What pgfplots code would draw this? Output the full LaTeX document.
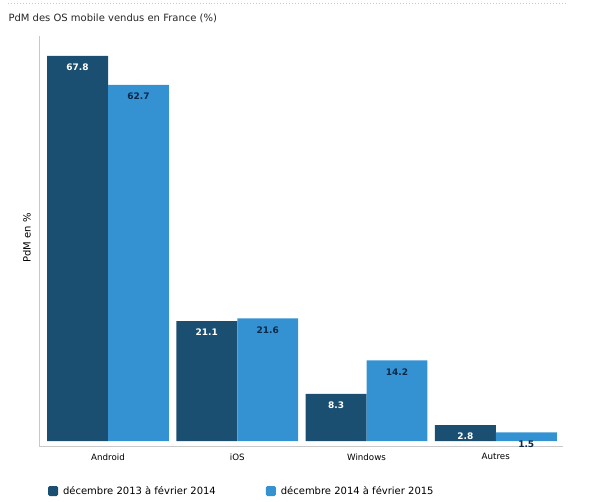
\documentclass[border=0pt]{standalone}
\usepackage{pgfplots}
\pgfplotsset{compat=1.18}
\usepackage{fontspec}
\setmainfont{DejaVu Sans}
\definecolor{darkbar}{RGB}{27,79,114}
\definecolor{lightbar}{RGB}{52,146,210}
\definecolor{lbltext}{RGB}{12,40,72}
\definecolor{axgray}{RGB}{200,200,200}
\begin{document}
\begin{tikzpicture}
\useasboundingbox (0,0) rectangle (600bp,502bp);
\draw[axgray, dotted, line width=1bp] (8bp,498bp) -- (567bp,498bp);
\node[anchor=west, font=\fontsize{10bp}{12bp}\selectfont, text=black!85] at (5bp,484bp) {PdM des OS mobile vendus en France (\%)};
\node[rotate=90, font=\fontsize{10bp}{12bp}\selectfont] at (27bp,264bp) {PdM en \%};
\begin{axis}[
  scale only axis,
  at={(39bp,56bp)}, anchor=south west,
  width=524bp, height=410bp,
  xmin=-0.534, xmax=3.52,
  ymin=-0.88, ymax=71.3,
  axis x line*=bottom, axis y line*=left,
  axis line style={axgray, line width=0.8bp, -},
  ytick=\empty,
  xtick={0,1,2,3},
  xticklabels={Android,iOS,Windows,Autres},
  major tick length=0pt,
  xticklabel style={font=\fontsize{8.7bp}{10bp}\selectfont, yshift=-4bp},
  /pgf/number format/assume math mode=true,
  /pgf/number format/.cd, fixed, precision=1, fixed zerofill, /pgfplots/.cd,
  ybar, bar width=0.4717,
  nodes near coords,
  every node near coord/.append style={anchor=center, yshift=-11.5bp, font=\bfseries\fontsize{9bp}{10bp}\selectfont},
  legend columns=2,
  legend style={draw=none, at={(0.017,-0.11)}, anchor=west, inner sep=0pt,
    font=\fontsize{10bp}{12bp}\selectfont,
    /tikz/every even column/.append style={column sep=48bp}},
  legend image code/.code={\fill[#1, rounded corners=1.5bp] (0bp,-5bp) rectangle (10bp,5bp); \path (13bp,0bp);},
]
\addplot[fill=darkbar, draw=none, bar shift=-0.2358, every node near coord/.append style={text=white}]
  coordinates {(0,67.8) (1,21.1) (2,8.3) (3,2.8)};
\addlegendentry{décembre 2013 à février 2014}
\addplot[fill=lightbar, draw=none, bar shift=0.2358, every node near coord/.append style={text=lbltext}]
  coordinates {(0,62.7) (1,21.6) (2,14.2) (3,1.5)};
\addlegendentry{décembre 2014 à février 2015}
\end{axis}
\end{tikzpicture}
\end{document}
